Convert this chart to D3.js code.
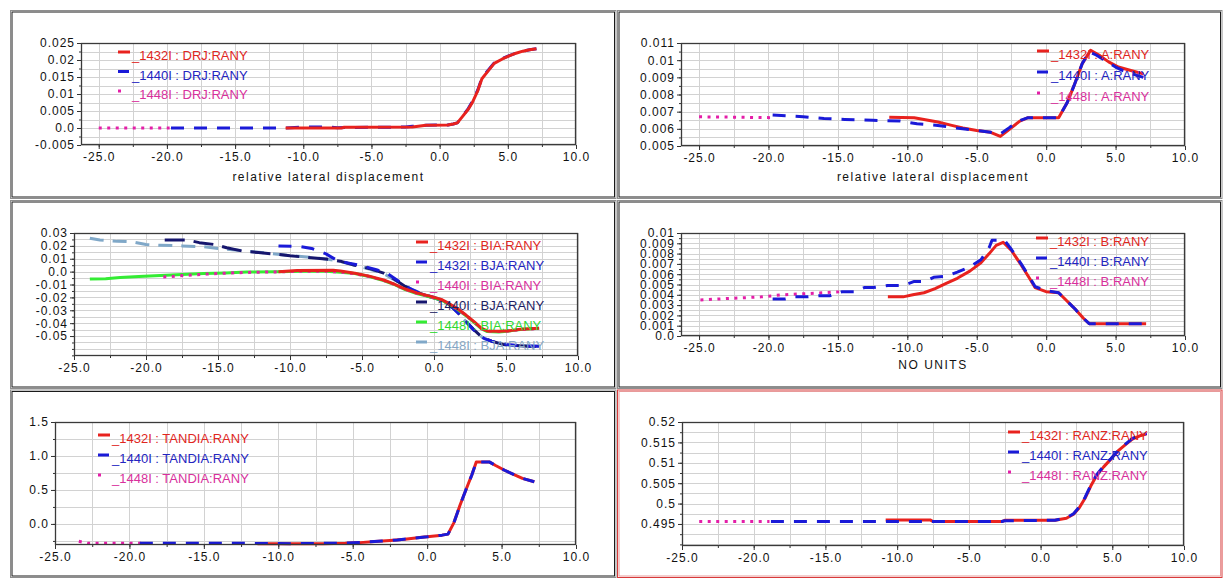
<!DOCTYPE html>
<html><head><meta charset="utf-8">
<script src="https://cdn.jsdelivr.net/npm/d3@7"></script>
<style>
body{margin:0;background:#fff}
svg{display:block}
text{font-family:"Liberation Sans",Arial,sans-serif}
</style>
</head><body>
<svg id="c" width="1224" height="581"></svg>
<script>
// ---------- shared axis ticks ----------
const xTickValues = [-25,-20,-15,-10,-5,0,5,10];
const xTickLabels = ["-25.0","-20.0","-15.0","-10.0","-5.0","0.0","5.0","10.0"];

// ---------- Panel 1 : DRJ:RANY ----------
const drjNames = ["_1432I : DRJ:RANY","_1440I : DRJ:RANY","_1448I : DRJ:RANY"];
const drjYTicks = [0.025,0.02,0.015,0.01,0.005,0,-0.005];
const drjYLabels = ["0.025","0.02","0.015","0.01","0.005","0.0","-0.005"];
const drj1432 = [[-11.3,0.0],[-7.2,0.0],[-7.0,0.0002],[-2.0,0.0003],[-1.0,0.0008],[0.6,0.0009],[1.0,0.0012],[1.3,0.0015],[1.7,0.0035],[2.1,0.0055],[2.4,0.0075],[2.8,0.011],[3.1,0.0145],[3.5,0.0165],[4.0,0.019],[4.6,0.0203],[5.1,0.0212],[5.6,0.022],[6.1,0.0226],[6.6,0.023],[7.1,0.0233]];
const drj1440 = [[-19.7,0.0],[-11.3,0.0],[-9.8,0.0003],[-8.3,0.0003],[-7.5,0.0001],[-2.5,0.0003],[-2.0,0.0005],[-1.0,0.0008],[0.6,0.0009],[1.0,0.0012],[1.3,0.0015],[1.7,0.0036],[2.1,0.0057],[2.4,0.0078],[2.8,0.0112],[3.1,0.0147],[3.5,0.0167],[4.0,0.0191],[4.6,0.0204],[5.1,0.0213],[5.6,0.022],[6.1,0.0226],[6.6,0.023],[7.1,0.0233]];
const drj1448 = [[-25.0,0.0],[-19.8,0.0]];

// ---------- Panel 2 : A:RANY ----------
const aNames = ["_1432I : A:RANY","_1440I : A:RANY","_1448I : A:RANY"];
const aYTicks = [0.011,0.01,0.009,0.008,0.007,0.006,0.005];
const aYLabels = ["0.011","0.01","0.009","0.008","0.007","0.006","0.005"];
const a1432 = [[-11.3,0.00668],[-9.5,0.00665],[-8.5,0.0065],[-7.8,0.0064],[-6.8,0.0062],[-6.0,0.00605],[-5.0,0.0059],[-4.0,0.0058],[-3.3,0.00556],[-2.6,0.006],[-1.9,0.00645],[-1.3,0.00665],[0.9,0.00665],[1.5,0.0075],[2.0,0.0085],[2.6,0.0098],[3.2,0.01058],[3.8,0.0103],[4.5,0.0099],[5.2,0.0096],[6.1,0.0094],[7.0,0.0092]];
const a1440 = [[-19.7,0.0068],[-18.5,0.00675],[-17.5,0.0067],[-16.0,0.0066],[-14.5,0.00655],[-12.5,0.0065],[-10.5,0.00645],[-9.3,0.0063],[-7.8,0.0062],[-6.5,0.00605],[-5.0,0.0059],[-4.0,0.0058],[-3.3,0.0057],[-2.6,0.0061],[-1.9,0.00648],[-1.3,0.00665],[0.9,0.00665],[1.5,0.0075],[2.0,0.0085],[2.6,0.0098],[3.1,0.0105],[3.6,0.0103],[4.2,0.01],[5.0,0.0096],[5.5,0.0094],[6.2,0.0092],[7.0,0.009]];
const a1448 = [[-25.0,0.0067],[-22.5,0.00668],[-19.8,0.00665]];

// ---------- Panel 3 : BIA/BJA:RANY ----------
const bjaNames = ["_1432I : BIA:RANY","_1432I : BJA:RANY","_1440I : BIA:RANY","_1440I : BJA:RANY","_1448I : BIA:RANY","_1448I : BJA:RANY"];
const bjaYTicks = [0.03,0.02,0.01,0,-0.01,-0.02,-0.03,-0.04,-0.05];
const bjaYLabels = ["0.03","0.02","0.01","0.0","-0.01","-0.02","-0.03","-0.04","-0.05"];
const bia1432 = [[-10.8,0.0],[-9.5,0.0008],[-7.0,0.001],[-6.5,0.0005],[-5.5,-0.0012],[-4.5,-0.0035],[-3.5,-0.0065],[-2.8,-0.0095],[-2.0,-0.0135],[-1.2,-0.0165],[-0.3,-0.019],[0.5,-0.0215],[1.0,-0.0245],[1.6,-0.0285],[2.2,-0.0335],[2.8,-0.039],[3.3,-0.044],[3.7,-0.046],[4.5,-0.0462],[5.3,-0.0458],[6.0,-0.0448],[7.3,-0.044]];
const bja1432 = [[-10.8,0.02],[-9.3,0.0195],[-8.5,0.018],[-7.5,0.0138],[-6.7,0.0085],[-6.0,0.0068],[-5.0,0.0045],[-4.0,0.0015],[-3.3,-0.001],[-2.5,-0.007],[-1.7,-0.013],[-0.8,-0.0175],[0.0,-0.02],[0.7,-0.0238],[1.3,-0.028],[1.8,-0.0335],[2.4,-0.041],[2.9,-0.047],[3.5,-0.052],[4.0,-0.054],[4.6,-0.0555],[5.1,-0.0565],[6.0,-0.0575],[7.3,-0.058]];
const bia1440 = [[-18.8,-0.0042],[-17.4,-0.003],[-15.8,-0.0019],[-14.5,-0.0012],[-13.0,-0.0006],[-11.0,-0.0002],[-9.0,0.0003],[-7.5,0.0004],[-6.5,-0.0004],[-5.5,-0.0016],[-4.5,-0.0038],[-3.5,-0.0068],[-2.8,-0.0097],[-2.0,-0.0138],[-1.2,-0.0168],[-0.3,-0.0193],[0.5,-0.0218],[1.0,-0.0247],[1.6,-0.0288],[2.2,-0.0338],[2.8,-0.0393],[3.3,-0.0443],[3.7,-0.0463],[4.5,-0.0465],[5.3,-0.046],[6.0,-0.045],[7.3,-0.0442]];
const bja1440 = [[-18.7,0.0245],[-17.1,0.0245],[-16.3,0.0225],[-15.2,0.021],[-14.4,0.0185],[-13.3,0.016],[-12.2,0.0148],[-11.0,0.0136],[-10.0,0.0123],[-8.5,0.0108],[-7.3,0.0095],[-6.4,0.0078],[-5.5,0.005],[-4.5,0.0025],[-3.5,-0.0012],[-2.8,-0.0055],[-2.0,-0.0115],[-1.2,-0.016],[-0.3,-0.0195],[0.5,-0.022],[1.0,-0.025],[1.6,-0.031],[2.2,-0.0385],[2.8,-0.0455],[3.4,-0.0515],[4.0,-0.054],[4.8,-0.0565],[5.5,-0.0572],[6.5,-0.058],[7.3,-0.0582]];
const bia1448 = [[-23.9,-0.0058],[-22.8,-0.0055],[-21.8,-0.0045],[-20.5,-0.0038],[-19.0,-0.003],[-17.5,-0.0022],[-16.0,-0.0015],[-14.5,-0.001],[-13.0,-0.0003],[-11.0,0.0],[-9.0,0.0003],[-7.5,0.0003],[-6.5,-0.0005],[-5.5,-0.0015],[-4.5,-0.0038],[-3.5,-0.007],[-2.8,-0.0098],[-2.0,-0.014],[-1.2,-0.017],[-0.3,-0.0195],[0.5,-0.022],[1.0,-0.025],[1.6,-0.029],[2.2,-0.034],[2.8,-0.0395],[3.3,-0.0445],[3.7,-0.0465],[4.5,-0.0468],[5.3,-0.046],[6.0,-0.045],[7.3,-0.044]];
const bja1448 = [[-23.9,0.026],[-23.2,0.0245],[-22.0,0.0235],[-21.0,0.0232],[-20.0,0.021],[-19.0,0.0205],[-17.5,0.02],[-16.0,0.0193],[-15.0,0.018],[-14.0,0.017],[-12.0,0.0148],[-10.0,0.0125],[-8.0,0.0105],[-7.0,0.009],[-6.5,0.0078],[-5.5,0.005],[-4.5,0.002],[-3.5,-0.0015],[-2.5,-0.008],[-1.5,-0.014],[-0.5,-0.0185],[0.5,-0.0215],[1.0,-0.0245],[1.6,-0.031],[2.2,-0.0385],[2.8,-0.0455],[3.4,-0.0515],[4.0,-0.054],[5.0,-0.057],[7.3,-0.058]];

// ---------- Panel 4 : B:RANY ----------
const bNames = ["_1432I : B:RANY","_1440I : B:RANY","_1448I : B:RANY"];
const bYTicks = [0.01,0.009,0.008,0.007,0.006,0.005,0.004,0.003,0.002,0.001,0];
const bYLabels = ["0.01","0.009","0.008","0.007","0.006","0.005","0.004","0.003","0.002","0.001","0.0"];
const b1432 = [[-11.4,0.0038],[-10.3,0.0038],[-9.6,0.004],[-8.8,0.0042],[-8.0,0.0046],[-7.2,0.0051],[-6.4,0.0056],[-5.5,0.0063],[-4.7,0.0071],[-4.1,0.008],[-3.6,0.0088],[-3.1,0.0091],[-2.5,0.0083],[-1.8,0.0069],[-1.2,0.0056],[-0.8,0.0047],[0.0,0.0043],[0.9,0.0042],[1.5,0.0034],[2.1,0.0026],[2.7,0.0017],[3.1,0.0012],[7.2,0.0012]];
const b1440 = [[-19.7,0.0036],[-18.8,0.0036],[-18.1,0.0038],[-17.2,0.0038],[-16.4,0.0039],[-15.6,0.0039],[-14.7,0.0043],[-13.8,0.0043],[-13.1,0.0047],[-12.5,0.0047],[-11.4,0.0049],[-10.3,0.0049],[-9.5,0.0053],[-8.7,0.0053],[-8.1,0.0057],[-7.2,0.0058],[-6.4,0.0062],[-5.5,0.0067],[-4.7,0.0074],[-4.1,0.0086],[-3.9,0.0093],[-3.0,0.0093],[-2.5,0.0084],[-1.8,0.007],[-1.2,0.0057],[-0.8,0.0048],[0.0,0.0044],[0.9,0.0042],[1.5,0.0034],[2.1,0.0026],[2.7,0.0017],[3.1,0.0012],[7.2,0.0012]];
const b1448 = [[-24.9,0.0035],[-23.5,0.0036],[-22.0,0.0037],[-20.5,0.0038],[-19.0,0.004],[-17.5,0.0041],[-16.0,0.0042],[-14.7,0.0043]];

// ---------- Panel 5 : TANDIA:RANY ----------
const tandiaNames = ["_1432I : TANDIA:RANY","_1440I : TANDIA:RANY","_1448I : TANDIA:RANY"];
const tandiaYTicks = [1.5,1.0,0.5,0.0];
const tandiaYLabels = ["1.5","1.0","0.5","0.0"];
const tandia1432 = [[-11.4,-0.292],[-7.0,-0.29],[-5.5,-0.284],[-4.5,-0.275],[-3.5,-0.258],[-2.5,-0.243],[-1.5,-0.224],[-0.5,-0.2],[0.5,-0.178],[1.0,-0.165],[1.4,-0.15],[1.8,0.02],[2.2,0.27],[2.6,0.5],[3.0,0.72],[3.3,0.91],[4.2,0.91],[4.6,0.86],[5.2,0.79],[5.8,0.73],[6.4,0.67],[7.2,0.62]];
const tandia1440 = [[-19.3,-0.285],[-13.0,-0.285],[-9.0,-0.29],[-6.0,-0.284],[-4.5,-0.272],[-3.0,-0.252],[-2.0,-0.235],[-1.0,-0.21],[0.0,-0.19],[1.0,-0.165],[1.4,-0.15],[1.8,0.02],[2.2,0.27],[2.6,0.5],[3.0,0.72],[3.3,0.91],[4.2,0.91],[4.6,0.86],[5.2,0.79],[5.8,0.73],[6.4,0.67],[7.2,0.62]];
const tandia1448 = [[-23.4,-0.255],[-22.8,-0.285],[-19.0,-0.285]];

// ---------- Panel 6 : RANZ:RANY ----------
const ranzNames = ["_1432I : RANZ:RANY","_1440I : RANZ:RANY","_1448I : RANZ:RANY"];
const ranzYTicks = [0.52,0.515,0.51,0.505,0.5,0.495];
const ranzYLabels = ["0.52","0.515","0.51","0.505","0.5","0.495"];
const ranz1432 = [[-10.8,0.496],[-7.7,0.496],[-7.5,0.4956],[-2.7,0.4956],[-2.5,0.4959],[1.0,0.4959],[1.8,0.4964],[2.3,0.4974],[2.7,0.499],[3.1,0.5013],[3.5,0.5043],[3.9,0.5068],[4.4,0.509],[4.9,0.5109],[5.4,0.5129],[5.9,0.5144],[6.4,0.5158],[7.0,0.5167],[7.4,0.5171]];
const ranz1440 = [[-18.8,0.4956],[-2.7,0.4956],[-2.5,0.4958],[1.0,0.4959],[1.8,0.4965],[2.3,0.4975],[2.7,0.4992],[3.1,0.5015],[3.5,0.5045],[3.9,0.507],[4.4,0.5092],[4.9,0.511],[5.4,0.513],[5.9,0.5145],[6.4,0.516],[7.0,0.5168],[7.4,0.5172]];
const ranz1448 = [[-23.8,0.4956],[-18.9,0.4956]];

// ---------- styles ----------
const RED = {color:"#e8221e", text:"#e0261e", dash:null, sym:12};
const BLUE = {color:"#1a1ad8", text:"#2424c0", dash:"13,10", sym:11};
const PINK = {color:"#e41ea8", text:"#d8309c", dash:"3,5.5", sym:3};
const NAVY = {color:"#16166e", text:"#1e1e64", dash:"20,9", sym:11};
const GREEN = {color:"#34ec34", text:"#30d830", dash:null, sym:11};
const LBLUE = {color:"#80a8c8", text:"#86a6c4", dash:"14,9", sym:11};

const panels = [
  {box:[10.5,10.5,616,198.5], frame:"dark", plot:[81,43,576,145], xDomain:[-26.3,10], yDomain:[-0.005,0.025], yStep:0.0025,
   yTicks:drjYTicks, yLabels:drjYLabels, title:"relative lateral displacement", titleY:181,
   legend:{x:118, y:60, dy:19.5},
   series:[{d:drj1448,s:PINK,n:drjNames[2]},{d:drj1440,s:BLUE,n:drjNames[1]},{d:drj1432,s:RED,n:drjNames[0]}],
   legendOrder:[2,1,0]},
  {box:[617.5,10.5,1222,198.5], frame:"dark", plot:[681,43,1185,146], xDomain:[-26.3,10], yDomain:[0.005,0.011], yStep:0.0005,
   yTicks:aYTicks, yLabels:aYLabels, title:"relative lateral displacement", titleY:181,
   legend:{x:1037, y:59, dy:21},
   series:[{d:a1448,s:PINK,n:aNames[2]},{d:a1432,s:RED,n:aNames[0]},{d:a1440,s:BLUE,n:aNames[1]}],
   legendOrder:[1,2,0]},
  {box:[10.5,200.5,616,388.5], frame:"dark", plot:[74,233,578,356], xDomain:[-25,10], yDomain:[-0.0655,0.03], yStep:0.005,
   yTicks:bjaYTicks, yLabels:bjaYLabels, title:null,
   legend:{x:416, y:250, dy:20},
   series:[{d:bja1448,s:LBLUE,n:bjaNames[5]},{d:bja1440,s:NAVY,n:bjaNames[3]},{d:bja1432,s:BLUE,n:bjaNames[1]},
           {d:bia1448,s:GREEN,n:bjaNames[4]},{d:bia1440,s:PINK,n:bjaNames[2]},{d:bia1432,s:RED,n:bjaNames[0]}],
   legendOrder:[5,2,4,1,3,0]},
  {box:[617.5,200.5,1222,388.5], frame:"dark", plot:[681,233,1185,336], xDomain:[-26.3,10], yDomain:[0,0.01], yStep:0.0005,
   yTicks:bYTicks, yLabels:bYLabels, title:"NO UNITS", titleY:369,
   legend:{x:1036, y:246, dy:20},
   series:[{d:b1448,s:PINK,n:bNames[2]},{d:b1432,s:RED,n:bNames[0]},{d:b1440,s:BLUE,n:bNames[1]}],
   legendOrder:[1,2,0]},
  {box:[10.5,390,616,577.5], frame:"dark", plot:[55,422,576,545], xDomain:[-25,10], yDomain:[-0.31,1.5], yStep:0.25,
   yTicks:tandiaYTicks, yLabels:tandiaYLabels, title:null,
   legend:{x:98, y:443, dy:20},
   series:[{d:tandia1448,s:PINK,n:tandiaNames[2]},{d:tandia1432,s:RED,n:tandiaNames[0]},{d:tandia1440,s:BLUE,n:tandiaNames[1]}],
   legendOrder:[1,2,0]},
  {box:[617.5,390,1222,577.5], frame:"red", plot:[682,422,1184,546], xDomain:[-25,10], yDomain:[0.4896,0.52], yStep:0.0025,
   yTicks:ranzYTicks, yLabels:ranzYLabels, title:null,
   legend:{x:1008, y:440, dy:20},
   series:[{d:ranz1448,s:PINK,n:ranzNames[2]},{d:ranz1432,s:RED,n:ranzNames[0]},{d:ranz1440,s:BLUE,n:ranzNames[1]}],
   legendOrder:[1,2,0]}
];

const svg = d3.select("#c");

function stepValues(lo, hi, step){
  const out = [];
  const start = Math.ceil(lo/step - 1e-9);
  for(let k=start; k*step <= hi + 1e-9; k++) out.push(+(k*step).toFixed(6));
  return out;
}
function labelFor(values, labels){
  const m = new Map(values.map((v,k)=>[+v.toFixed(6), labels[k]]));
  return d => m.get(+d.toFixed(6));
}

panels.forEach((p, i) => {
  const g = svg.append("g");
  const [bx0,by0,bx1,by1] = p.box;
  const outerC = p.frame === "red" ? "#d83a3a" : "#8e8e8e";
  const innerC = p.frame === "red" ? "#e89a9a" : "#1a1a1a";
  g.append("rect").attr("x",bx0).attr("y",by0).attr("width",bx1-bx0).attr("height",by1-by0)
    .attr("fill","#fff").attr("stroke",outerC).attr("stroke-width",1);
  g.append("rect").attr("x",bx0+1.5).attr("y",by0+1.5).attr("width",bx1-bx0-3).attr("height",by1-by0-3)
    .attr("fill","none").attr("stroke",innerC).attr("stroke-width",1);

  const [L,T,R,B] = p.plot;
  const x = d3.scaleLinear().domain(p.xDomain).range([L,R]);
  const y = d3.scaleLinear().domain(p.yDomain).range([B,T]);

  // grid
  const grid = g.append("g").attr("stroke","#d2d2d2").attr("stroke-width",1).attr("shape-rendering","crispEdges");
  const xg = stepValues(p.xDomain[0], p.xDomain[1], 2.5);
  grid.selectAll("line.v").data(xg).join("line").attr("class","v")
    .attr("x1",d=>Math.round(x(d))+0.5).attr("x2",d=>Math.round(x(d))+0.5).attr("y1",T).attr("y2",B);
  const yg = stepValues(p.yDomain[0], p.yDomain[1], p.yStep);
  grid.selectAll("line.h").data(yg).join("line").attr("class","h")
    .attr("y1",d=>Math.round(y(d))+0.5).attr("y2",d=>Math.round(y(d))+0.5).attr("x1",L).attr("x2",R);

  // series
  const clipId = "clip"+i;
  svg.append("defs").append("clipPath").attr("id",clipId).append("rect")
    .attr("x",L).attr("y",T-2).attr("width",R-L).attr("height",B-T+4);
  const line = d3.line().x(d=>x(d[0])).y(d=>y(d[1]));
  const sg = g.append("g").attr("clip-path",`url(#${clipId})`);
  p.series.forEach(s => {
    sg.append("path").attr("d",line(s.d)).attr("fill","none")
      .attr("stroke",s.s.color).attr("stroke-width",3)
      .attr("stroke-dasharray",s.s.dash)
      .attr("stroke-linejoin","round");
  });

  // frame
  g.append("rect").attr("x",L+0.5).attr("y",T+0.5).attr("width",R-L-1).attr("height",B-T-1)
    .attr("fill","none").attr("stroke","#3a3a3a").attr("stroke-width",1.3);

  // axes
  const xAxis = d3.axisBottom(x).tickValues(xTickValues).tickFormat(labelFor(xTickValues, xTickLabels)).tickSize(4).tickPadding(3);
  const xa = g.append("g").attr("transform",`translate(0,${B})`).call(xAxis);
  const xMinor = d3.axisBottom(x).tickValues(xg).tickFormat(() => "").tickSize(2);
  const xm = g.append("g").attr("transform",`translate(0,${B})`).call(xMinor);
  const yAxis = d3.axisLeft(y).tickValues(p.yTicks).tickFormat(labelFor(p.yTicks, p.yLabels)).tickSize(4).tickPadding(2);
  const ya = g.append("g").attr("transform",`translate(${L},0)`).call(yAxis);
  const yMinor = d3.axisLeft(y).tickValues(yg).tickFormat(() => "").tickSize(2);
  const ym = g.append("g").attr("transform",`translate(${L},0)`).call(yMinor);
  [xa,xm,ya,ym].forEach(a => {
    a.select(".domain").remove();
    a.selectAll(".tick line").attr("stroke","#333");
    a.selectAll("text").attr("fill","#111").style("font-size","12px").style("letter-spacing","1px")
      .style("font-family",'"Liberation Sans", Arial, sans-serif');
  });

  if(p.title){
    g.append("text").attr("x",(L+R)/2).attr("y",p.titleY).attr("text-anchor","middle")
      .style("font-size","12px").style("letter-spacing","1.5px").attr("fill","#111").text(p.title);
  }

  // legend
  p.legendOrder.forEach((si, k) => {
    const s = p.series[si];
    const by = p.legend.y + k*p.legend.dy;
    const sx = p.legend.x;
    g.append("line").attr("x1",sx).attr("x2",sx+s.s.sym).attr("y1",by-8).attr("y2",by-8)
      .attr("stroke",s.s.color).attr("stroke-width",3);
    g.append("text").attr("x",sx+14).attr("y",by).attr("fill",s.s.text)
      .style("font-size","13px").text(s.n);
  });
});
</script>
</body></html>
